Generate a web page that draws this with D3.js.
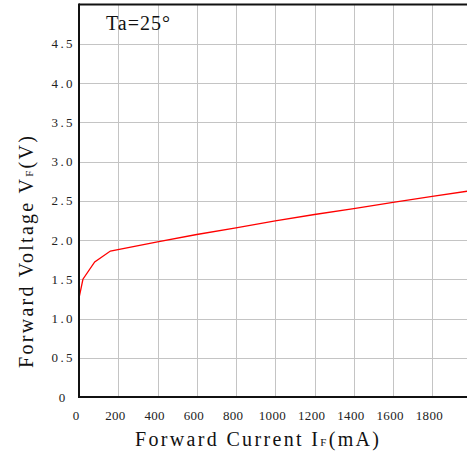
<!DOCTYPE html>
<html>
<head>
<meta charset="utf-8">
<script src="https://cdn.jsdelivr.net/npm/d3@7"></script>
<style>
  html, body { margin: 0; padding: 0; background: #fff; }
  svg { display: block; }
</style>
</head>
<body>
<svg id="chart" width="467" height="454"></svg>
<script>
// Data
const currentMA = [0, 20, 80, 160, 400, 600, 800, 1000, 1200, 1400, 1600, 1800, 2000];
const voltageV  = [1.26, 1.50, 1.72, 1.86, 1.975, 2.07, 2.155, 2.245, 2.325, 2.40, 2.48, 2.555, 2.63];
const xTicks = [0, 200, 400, 600, 800, 1000, 1200, 1400, 1600, 1800];
const yTicks = [0, 0.5, 1.0, 1.5, 2.0, 2.5, 3.0, 3.5, 4.0, 4.5];
const yTickLabels = ["0", "0.5", "1.0", "1.5", "2.0", "2.5", "3.0", "3.5", "4.0", "4.5"];
const annotation = "Ta=25°";

(function () {
const W = 467, H = 454;
const mLeft = 79, mTop = 4.5, mBottom = 397;
const svg = d3.select("#chart");

const x = d3.scaleLinear().domain([0, 2000]).range([mLeft, 471.5]);
const y = d3.scaleLinear().domain([0, 5]).range([mBottom, mTop]);

const serif = "'Liberation Serif', 'DejaVu Serif', serif";

// Grid
const grid = svg.append("g").attr("stroke", "#c4c4c4").attr("stroke-width", 1);
xTicks.filter(d => d > 0).forEach(d => {
  grid.append("line").attr("x1", Math.round(x(d)) + 0.5).attr("x2", Math.round(x(d)) + 0.5)
    .attr("y1", mTop).attr("y2", mBottom);
});
yTicks.filter(d => d > 0).forEach(d => {
  grid.append("line").attr("y1", Math.round(y(d)) + 0.5).attr("y2", Math.round(y(d)) + 0.5)
    .attr("x1", mLeft).attr("x2", W);
});

// Curve
const line = d3.line().x((d, i) => x(currentMA[i])).y(d => y(d));
svg.append("path").datum(voltageV)
  .attr("d", line)
  .attr("fill", "none")
  .attr("stroke", "#ff0000")
  .attr("stroke-width", 1.3);

// Frame: top, left, bottom
const frame = svg.append("g").attr("stroke", "#111").attr("stroke-width", 2).attr("fill", "none");
frame.append("line").attr("x1", mLeft).attr("x2", W).attr("y1", mTop).attr("y2", mTop);
frame.append("line").attr("x1", mLeft).attr("x2", mLeft).attr("y1", mTop - 1).attr("y2", mBottom + 1);
frame.append("line").attr("x1", mLeft).attr("x2", W).attr("y1", mBottom).attr("y2", mBottom);

// X tick labels
svg.append("g").selectAll("text").data(xTicks).join("text")
  .attr("x", d => x(d) - 3)
  .attr("y", 420)
  .attr("text-anchor", "middle")
  .attr("font-family", serif)
  .attr("font-size", 13)
  .attr("fill", "#222")
  .attr("textLength", d => String(d).length * 6.7)
  .attr("lengthAdjust", "spacing")
  .text(d => String(d));

// Y tick labels
svg.append("g").selectAll("text").data(yTicks).join("text")
  .attr("x", 62)
  .attr("y", d => y(d) + 4.5)
  .attr("text-anchor", "middle")
  .attr("font-family", serif)
  .attr("font-size", 13)
  .attr("fill", "#222")
  .attr("textLength", (d, i) => yTickLabels[i].length === 1 ? 6.5 : 21)
  .attr("lengthAdjust", "spacing")
  .text((d, i) => yTickLabels[i]);

// Annotation
svg.append("text")
  .attr("x", 106).attr("y", 30)
  .attr("font-family", serif)
  .attr("font-size", 20)
  .attr("fill", "#111")
  .attr("textLength", 64)
  .attr("lengthAdjust", "spacing")
  .text(annotation);

// X axis title
const xt = svg.append("text")
  .attr("x", 135).attr("y", 446)
  .attr("font-family", serif)
  .attr("font-size", 20)
  .attr("fill", "#111")
  .attr("textLength", 244)
  .attr("lengthAdjust", "spacing");
xt.append("tspan").text("Forward Current I");
xt.append("tspan").attr("font-size", 11).text("F");
xt.append("tspan").text("(mA)");

// Y axis title
const yt = svg.append("text")
  .attr("transform", "translate(33,368) rotate(-90)")
  .attr("x", 0).attr("y", 0)
  .attr("font-family", serif)
  .attr("font-size", 20)
  .attr("fill", "#111")
  .attr("textLength", 232)
  .attr("lengthAdjust", "spacing");
yt.append("tspan").text("Forward Voltage V");
yt.append("tspan").attr("font-size", 11).text("F");
yt.append("tspan").text("(V)");
})();
</script>
</body>
</html>
